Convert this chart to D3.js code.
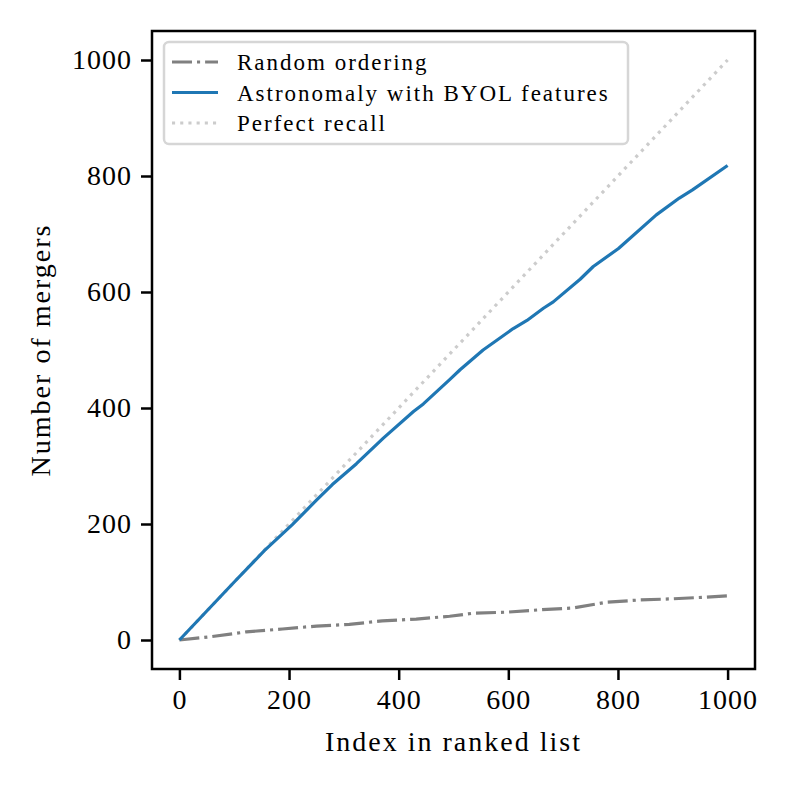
<!DOCTYPE html>
<html lang="en">
<head>
<meta charset="utf-8">
<script src="https://d3js.org/d3.v7.min.js"></script>
<style>
  body { margin: 0; background: white; }
  text { font-family: "Liberation Serif", "DejaVu Serif", serif; fill: black; }
</style>
</head>
<body>
<svg width="789" height="789"></svg>
<script>
    // values
    var randomIdx = [0, 60, 122, 188, 250, 310, 370, 432, 493, 535, 597, 657, 717, 779, 839, 900, 962, 1000];
    var randomHits = [0, 6, 14, 19, 24, 27, 33, 36, 41, 46, 48, 52, 55, 65, 69, 71, 74, 76];

    var byolIdx = [0, 50, 100, 155, 206, 250, 279, 323, 372, 427, 445, 493, 512, 554, 609, 634, 664, 682, 731, 755, 801, 870, 912, 936, 1000];
    var byolHits = [0, 50, 100, 154, 199, 241, 268, 304, 348, 394, 407, 449, 466, 500, 537, 551, 572, 583, 622, 644, 675, 733, 762, 776, 818];

    var perfectIdx = [0, 1000];
    var perfectHits = [0, 1000];

    var xTicks = [0, 200, 400, 600, 800, 1000];
    var yTicks = [0, 200, 400, 600, 800, 1000];
    var legendLabels = ["Random ordering", "Astronomaly with BYOL features", "Perfect recall"];

    // plot box (window.top is taken, so no bare "top")
    var pLeft = 152, pRight = 755, pTop = 31, pBottom = 669;

    var x = d3.scaleLinear().domain([-50, 1050]).range([pLeft, pRight]);
    var y = d3.scaleLinear().domain([-50, 1050]).range([pBottom, pTop]);

    var svg = d3.select("svg");

    function pairs(xs, ys) {
        return xs.map(function (v, i) { return [v, ys[i]]; });
    }

    var line = d3.line()
        .x(function (d) { return x(d[0]); })
        .y(function (d) { return y(d[1]); });

    var series = [
        {data: pairs(randomIdx, randomHits), color: "#808080", dash: "20,5,3.1,5"},
        {data: pairs(byolIdx, byolHits), color: "#1f77b4", dash: null},
        {data: pairs(perfectIdx, perfectHits), color: "#cccccc", dash: "3.1,5.1"}
    ];

    // lines (perfect recall goes under the others)
    svg.append("g")
        .selectAll("path").data([series[2], series[0], series[1]]).enter().append("path")
        .attr("d", function (d) { return line(d.data); })
        .attr("fill", "none")
        .attr("stroke", function (d) { return d.color; })
        .attr("stroke-width", 3.2)
        .attr("stroke-linejoin", "round")
        .attr("stroke-dasharray", function (d) { return d.dash; });

    // axes
    var xAxis = svg.append("g")
        .attr("transform", "translate(0," + pBottom + ")")
        .call(d3.axisBottom(x).tickValues(xTicks).tickSize(11).tickPadding(9).tickFormat(d3.format("d")));
    var yAxis = svg.append("g")
        .attr("transform", "translate(" + pLeft + ",0)")
        .call(d3.axisLeft(y).tickValues(yTicks).tickSize(11).tickPadding(9).tickFormat(d3.format("d")));

    [xAxis, yAxis].forEach(function (a) {
        a.select(".domain").remove();
        a.selectAll(".tick line").attr("stroke", "black").attr("stroke-width", 2.5);
        a.selectAll(".tick text")
            .attr("font-size", 28)
            .attr("letter-spacing", 1)
            .attr("font-family", "Liberation Serif");
    });

    // frame
    svg.append("rect")
        .attr("x", pLeft).attr("y", pTop)
        .attr("width", pRight - pLeft).attr("height", pBottom - pTop)
        .attr("fill", "none").attr("stroke", "black").attr("stroke-width", 2.5);

    // axis labels
    svg.append("text")
        .attr("x", (pLeft + pRight) / 2).attr("y", 751)
        .attr("text-anchor", "middle").attr("font-size", 28).attr("letter-spacing", 2)
        .text("Index in ranked list");
    svg.append("text")
        .attr("transform", "translate(50," + ((pTop + pBottom) / 2) + ") rotate(-90)")
        .attr("text-anchor", "middle").attr("font-size", 28).attr("letter-spacing", 2)
        .text("Number of mergers");

    // legend
    var legend = svg.append("g");
    legend.append("rect")
        .attr("x", 164).attr("y", 42).attr("width", 464).attr("height", 102)
        .attr("rx", 5).attr("fill", "white").attr("fill-opacity", 0.8)
        .attr("stroke", "#d6d6d6").attr("stroke-width", 2.5);

    var rows = legend.selectAll("g.row").data(series).enter().append("g")
        .attr("class", "row")
        .attr("transform", function (d, i) { return "translate(0," + (62 + i * 30.5) + ")"; });
    rows.append("line")
        .attr("x1", 172).attr("x2", 218).attr("y1", 0).attr("y2", 0)
        .attr("stroke", function (d) { return d.color; })
        .attr("stroke-width", 3.2)
        .attr("stroke-dasharray", function (d) { return d.dash; });
    rows.append("text")
        .attr("x", 237).attr("y", 0).attr("dy", "0.35em")
        .attr("font-size", 23).attr("letter-spacing", 2)
        .text(function (d, i) { return legendLabels[i]; });
</script>
</body>
</html>
